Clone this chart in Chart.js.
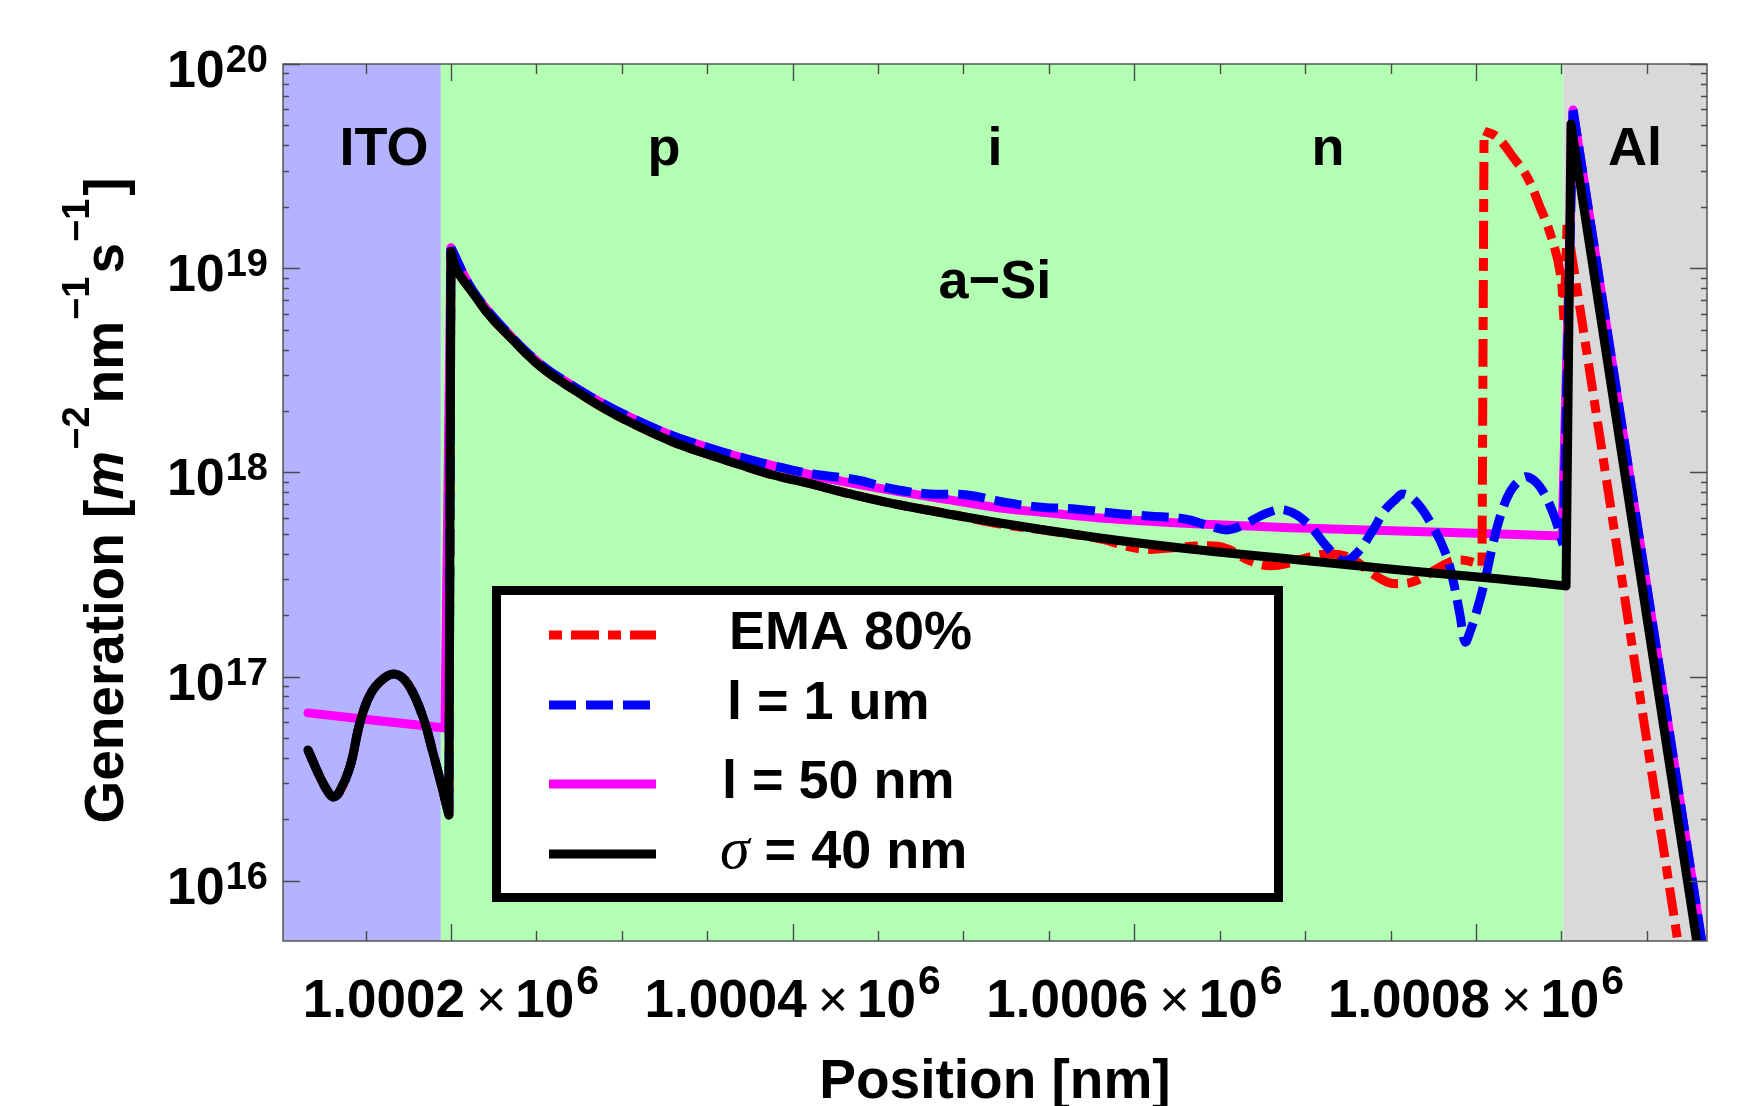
<!DOCTYPE html>
<html>
<head>
<meta charset="utf-8">
<script src="https://cdn.jsdelivr.net/npm/chart.js@4.4.1/dist/chart.umd.min.js"></script>
<style>
html,body{margin:0;padding:0;background:#ffffff;overflow:hidden;}
canvas{display:block;}
</style>
</head>
<body>
<canvas id="chart" width="1749" height="1106"></canvas>
<script>
// ---------------- data ----------------
const seriesLabels = ['EMA 80%', 'l = 1 um', 'l = 50 nm', 'σ = 40 nm'];
const seriesColors = ['#ff0000', '#0000ff', '#ff00ff', '#000000'];

// axis ranges (position in nm, generation in m^-2 nm^-1 s^-1)
const xMin = 1000101.7, xMax = 1000935.2;
const yMin = 5.08e15, yMax = 1e20;

// device layers
const layerEdges = [1000194.1, 1000851.2];
const layerColors = ['#b3b3ff', '#b3ffb3', '#d9d9d9'];
const layerLabels = ['ITO', 'p', 'i', 'n', 'Al', 'a\u2212Si'];
const layerLabelPos = [1000160.8, 1000324.7, 1000518.4, 1000713.4, 1000893.1, 1000518.4];
const layerLabelGen = [3.2e19, 3.2e19, 3.2e19, 3.2e19, 3.2e19, 7.15e18];

// ticks
const xTickPos = [1000200, 1000400, 1000600, 1000800];
const xTickMantissa = ['1.0002', '1.0004', '1.0006', '1.0008'];
const xTickExp = '6';
const yTickExp = [16, 17, 18, 19, 20];

// coherent interference inside ITO (shared by sigma, EMA, l = 1 um)
const itoPos = [1000116.3, 1000123.3, 1000127.4, 1000130.9, 1000134.4, 1000140.9, 1000146.7, 1000152.6, 1000159.6, 1000167.2, 1000174.8, 1000183.6, 1000189.5, 1000194.7, 1000198.8];
const itoGen = [4.38e16, 3.23e16, 2.79e16, 2.58e16, 2.70e16, 3.62e16, 5.94e16, 8.14e16, 9.64e16, 1.03e17, 9.21e16, 6.35e16, 4.23e16, 2.89e16, 2.10e16];

// sigma = 40 nm
const sigmaPos = [1000200.0, 1000203.5, 1000212.9, 1000222.8, 1000232.8, 1000252.1, 1000271.4, 1000291.3, 1000310.6, 1000330.0,
  1000349.9, 1000369.2, 1000388.5, 1000408.4, 1000433.6, 1000462.8, 1000521.4, 1000579.9, 1000638.4, 1000697.0,
  1000755.5, 1000814.1, 1000852.7, 1000855.6, 1000931.1];
const sigmaGen = [1.21e19, 9.80e18, 7.56e18, 5.84e18, 4.77e18, 3.32e18, 2.56e18, 2.02e18, 1.67e18, 1.41e18,
  1.23e18, 1.09e18, 9.72e17, 8.89e17, 7.85e17, 6.93e17, 5.66e17, 4.78e17, 4.17e17, 3.73e17,
  3.33e17, 3.01e17, 2.78e17, 5.08e19, 3.99e15];
const sigmaKinks = [1000198.8, 1000200.0, 1000852.7, 1000855.6];

// EMA 80%
const emaPos = [1000200.0, 1000203.5, 1000212.9, 1000222.8, 1000232.8, 1000252.1, 1000271.4, 1000291.3, 1000310.6, 1000330.0,
  1000349.9, 1000369.2, 1000388.5, 1000408.4, 1000433.6, 1000462.8, 1000492.1, 1000521.4, 1000550.6, 1000579.9,
  1000603.3, 1000620.9, 1000638.4, 1000653.1, 1000667.7, 1000679.4, 1000691.1, 1000702.8, 1000714.5, 1000726.3,
  1000738.0, 1000747.9, 1000755.5, 1000764.3, 1000776.0, 1000784.8, 1000791.8, 1000799.4, 1000803.5, 1000804.7,
  1000812.3, 1000821.7, 1000829.9, 1000837.5, 1000843.3, 1000849.2, 1000851.5, 1000853.3, 1000920.0];
const emaGen = [1.21e19, 9.80e18, 7.56e18, 5.84e18, 4.77e18, 3.32e18, 2.56e18, 2.02e18, 1.67e18, 1.41e18,
  1.23e18, 1.09e18, 9.72e17, 8.89e17, 7.85e17, 6.93e17, 6.26e17, 5.59e17, 5.17e17, 4.73e17,
  4.22e17, 4.27e17, 4.37e17, 4.27e17, 3.69e17, 3.49e17, 3.61e17, 3.86e17, 3.99e17, 3.82e17,
  3.26e17, 2.91e17, 2.85e17, 2.94e17, 3.33e17, 3.65e17, 3.73e17, 3.61e17, 3.49e17, 4.70e19,
  4.39e19, 3.50e19, 2.80e19, 1.99e19, 1.49e19, 9.58e18, 5.58e18, 1.63e19, 4.01e15];
const emaKinks = [1000198.8, 1000200.0, 1000803.5, 1000804.7, 1000851.5, 1000853.3];

// l = 1 um
const l1Pos = [1000200.0, 1000212.9, 1000232.8, 1000252.1, 1000271.4, 1000291.3, 1000310.6, 1000330.0, 1000349.9, 1000369.2,
  1000388.5, 1000411.9, 1000437.7, 1000458.7, 1000479.8, 1000502.1, 1000523.1, 1000543.6, 1000565.3, 1000586.9,
  1000608.0, 1000629.7, 1000644.3, 1000654.3, 1000663.6, 1000677.7, 1000688.2, 1000701.1, 1000712.8, 1000722.2,
  1000730.4, 1000739.7, 1000746.7, 1000752.6, 1000757.3, 1000765.5, 1000774.8, 1000781.9, 1000786.5, 1000790.6,
  1000793.6, 1000796.5, 1000800.6, 1000805.3, 1000809.4, 1000814.1, 1000819.9, 1000825.8, 1000830.5, 1000837.5,
  1000845.1, 1000851.0, 1000856.8, 1000934.1];
const l1Gen = [1.26e19, 7.74e18, 4.87e18, 3.40e18, 2.65e18, 2.12e18, 1.77e18, 1.51e18, 1.33e18, 1.19e18,
  1.08e18, 9.83e17, 9.19e17, 8.30e17, 7.85e17, 7.76e17, 7.17e17, 6.78e17, 6.63e17, 6.33e17,
  6.12e17, 5.92e17, 5.47e17, 5.23e17, 5.53e17, 6.33e17, 6.55e17, 5.66e17, 4.32e17, 3.69e17,
  4.04e17, 5.23e17, 6.55e17, 7.34e17, 7.85e17, 7.09e17, 5.41e17, 4.08e17, 2.98e17, 2.01e17,
  1.48e17, 1.66e17, 2.12e17, 2.98e17, 4.27e17, 6.06e17, 8.03e17, 9.19e17, 9.51e17, 8.49e17,
  6.33e17, 4.42e17, 5.95e19, 3.97e15];
const l1Kinks = [1000198.8, 1000200.0, 1000851.0, 1000856.8];

// l = 50 nm
const l50Pos = [1000116.3, 1000196.5, 1000200.0, 1000212.9, 1000232.8, 1000252.1, 1000271.4, 1000291.3, 1000310.6, 1000330.0,
  1000349.9, 1000369.2, 1000388.5, 1000408.4, 1000433.6, 1000462.8, 1000492.1, 1000521.4, 1000550.6, 1000579.9,
  1000638.4, 1000697.0, 1000755.5, 1000814.1, 1000850.4, 1000856.8, 1000934.1];
const l50Gen = [6.65e16, 5.61e16, 1.26e19, 7.74e18, 4.87e18, 3.40e18, 2.65e18, 2.12e18, 1.77e18, 1.51e18,
  1.33e18, 1.19e18, 1.08e18, 9.83e17, 8.89e17, 8.03e17, 7.34e17, 6.70e17, 6.33e17, 5.99e17,
  5.59e17, 5.35e17, 5.17e17, 5.00e17, 4.89e17, 5.95e19, 3.97e15];
const l50Kinks = [1000196.5, 1000200.0, 1000850.4, 1000856.8];

// ---------------- building ----------------
const SANS = '"Liberation Sans", Arial, sans-serif';
const SERIF = '"Liberation Serif", "Times New Roman", serif';

function buildPoints(xs, ys, kinks) {
  const pts = [];
  xs.forEach((x, i) => {
    pts.push({x: x, y: ys[i]});
    if (kinks.includes(x) && i > 0 && i < xs.length - 1) {
      pts.push({x: x, y: null});
      pts.push({x: x, y: ys[i]});
    }
  });
  return pts;
}

const datasets = [
  {label: seriesLabels[3], data: buildPoints(itoPos.concat(sigmaPos), itoGen.concat(sigmaGen), sigmaKinks),
   borderColor: seriesColors[3], borderDash: [], borderCapStyle: 'round', order: 0},
  {label: seriesLabels[1], data: buildPoints(itoPos.concat(l1Pos), itoGen.concat(l1Gen), l1Kinks),
   borderColor: seriesColors[1], borderDash: [27, 10], borderCapStyle: 'butt', order: 1},
  {label: seriesLabels[0], data: buildPoints(itoPos.concat(emaPos), itoGen.concat(emaGen), emaKinks),
   borderColor: seriesColors[0], borderDash: [13, 9, 28, 9], borderCapStyle: 'butt', order: 2},
  {label: seriesLabels[2], data: buildPoints(l50Pos, l50Gen, l50Kinks),
   borderColor: seriesColors[2], borderDash: [], borderCapStyle: 'round', order: 3}
].map(d => Object.assign({
  borderWidth: 9, pointRadius: 0, fill: false, tension: 0.4,
  spanGaps: false, clip: 0, borderJoinStyle: 'round'
}, d));

function drawParts(ctx, parts, x, y, align) {
  let total = 0;
  parts.forEach((p, i) => {
    ctx.font = p.f;
    p.w = ctx.measureText(p.t).width;
    total += p.w + (i < parts.length - 1 ? (p.gap || 0) : 0);
  });
  let cx = align === 'center' ? x - total / 2 : (align === 'right' ? x - total : x);
  ctx.textAlign = 'left';
  ctx.textBaseline = 'alphabetic';
  parts.forEach(p => {
    ctx.font = p.f;
    ctx.fillText(p.t, cx, y + (p.dy || 0));
    cx += p.w + (p.gap || 0);
  });
}

const deco = {
  id: 'deco',
  beforeDraw(chart) {
    const ctx = chart.ctx;
    ctx.save();
    ctx.fillStyle = '#ffffff';
    ctx.fillRect(0, 0, chart.width, chart.height);
    ctx.restore();
  },
  beforeDatasetsDraw(chart) {
    const {ctx, chartArea: a, scales: {x}} = chart;
    const edges = [xMin].concat(layerEdges, [xMax]);
    ctx.save();
    for (let i = 0; i < layerColors.length; i++) {
      const p0 = x.getPixelForValue(edges[i]);
      const p1 = x.getPixelForValue(edges[i + 1]);
      ctx.fillStyle = layerColors[i];
      ctx.fillRect(p0, a.top, p1 - p0, a.bottom - a.top);
    }
    ctx.restore();
  },
  afterDatasetsDraw(chart) {
    const {ctx, chartArea: a, scales: {x, y}} = chart;
    ctx.save();
    ctx.fillStyle = '#000';
    // layer labels
    ctx.font = `bold 54px ${SANS}`;
    ctx.textAlign = 'center';
    ctx.textBaseline = 'alphabetic';
    layerLabels.forEach((t, i) => {
      ctx.fillText(t, x.getPixelForValue(layerLabelPos[i]), y.getPixelForValue(layerLabelGen[i]));
    });

    // legend
    ctx.fillStyle = '#ffffff';
    ctx.fillRect(492, 586, 791, 316);
    ctx.lineWidth = 9;
    ctx.strokeStyle = '#000';
    ctx.setLineDash([]);
    ctx.strokeRect(496.5, 590.5, 782, 307);
    const legendOrder = [2, 1, 3, 0]; // dataset indices for EMA, l=1um, l=50nm, sigma
    const rowY = [635, 705, 784, 854];
    const textX = [729, 727, 722, 720];
    legendOrder.forEach((di, r) => {
      const ds = chart.data.datasets[di];
      ctx.save();
      ctx.strokeStyle = ds.borderColor;
      ctx.lineWidth = 9;
      ctx.lineCap = 'butt';
      ctx.setLineDash(ds.borderDash || []);
      ctx.beginPath();
      ctx.moveTo(549, rowY[r]);
      ctx.lineTo(656, rowY[r]);
      ctx.stroke();
      ctx.restore();
      ctx.fillStyle = '#000';
      const label = ds.label;
      if (label.charAt(0) === 'σ') {
        drawParts(ctx, [
          {t: 'σ', f: `italic 60px ${SERIF}`, gap: 0},
          {t: label.slice(1), f: `bold 54px ${SANS}`}
        ], textX[r], rowY[r] + 14, 'left');
      } else {
        drawParts(ctx, [{t: label, f: `bold 54px ${SANS}`}], textX[r], rowY[r] + 14, 'left');
      }
    });

    // frame and ticks
    ctx.strokeStyle = '#4a4a4a';
    ctx.lineWidth = 1.4;
    ctx.setLineDash([]);
    ctx.beginPath();
    for (let v = 1000150; v <= xMax; v += 50) {
      const px = Math.round(x.getPixelForValue(v)) + 0.5;
      if (px < a.left || px > a.right) continue;
      const len = xTickPos.includes(v) ? 17 : 10;
      ctx.moveTo(px, a.bottom); ctx.lineTo(px, a.bottom - len);
      ctx.moveTo(px, a.top); ctx.lineTo(px, a.top + len);
    }
    yTickExp.forEach(e => {
      const kmax = e === yTickExp[yTickExp.length - 1] ? 1 : 9;
      for (let k = 1; k <= kmax; k++) {
        const py = Math.round(y.getPixelForValue(k * Math.pow(10, e))) + 0.5;
        if (py < a.top - 1 || py > a.bottom) continue;
        const len = k === 1 ? 17 : 6;
        ctx.moveTo(a.left, py); ctx.lineTo(a.left + len, py);
        ctx.moveTo(a.right, py); ctx.lineTo(a.right - len, py);
      }
    });
    ctx.stroke();
    ctx.strokeRect(a.left, a.top, a.right - a.left, a.bottom - a.top);

    // tick labels
    ctx.fillStyle = '#000';
    xTickPos.forEach((v, i) => {
      const cx = x.getPixelForValue(v);
      drawParts(ctx, [
        {t: xTickMantissa[i], f: `bold 53px ${SANS}`, gap: 11},
        {t: '×', f: `52px ${SANS}`, gap: 9},
        {t: '10', f: `bold 53px ${SANS}`, gap: 2},
        {t: xTickExp, f: `bold 41px ${SANS}`, dy: -23}
      ], cx, 1017, 'center');
    });
    yTickExp.forEach(e => {
      const py = y.getPixelForValue(Math.pow(10, e));
      drawParts(ctx, [
        {t: '10', f: `bold 52px ${SANS}`, gap: 1},
        {t: String(e), f: `bold 38px ${SANS}`, dy: -15}
      ], 268, py + 23, 'right');
    });

    // axis titles
    drawParts(ctx, [{t: 'Position [nm]', f: `bold 55px ${SANS}`}], (a.left + a.right) / 2, 1098, 'center');
    ctx.save();
    ctx.translate(123, (a.top + a.bottom) / 2 - 2);
    ctx.rotate(-Math.PI / 2);
    drawParts(ctx, [
      {t: 'Generation [', f: `bold 55px ${SANS}`},
      {t: 'm', f: `italic bold 55px ${SANS}`, gap: 1},
      {t: '\u22122', f: `bold 38px ${SANS}`, dy: -34, gap: 3},
      {t: 'nm', f: `bold 55px ${SANS}`, gap: 1},
      {t: '\u22121', f: `bold 38px ${SANS}`, dy: -34, gap: 3},
      {t: 's', f: `bold 55px ${SANS}`, gap: 1},
      {t: '\u22121', f: `bold 38px ${SANS}`, dy: -34, gap: 3},
      {t: ']', f: `bold 55px ${SANS}`}
    ], 0, 0, 'center');
    ctx.restore();
    ctx.restore();
  }
};

new Chart(document.getElementById('chart'), {
  type: 'line',
  data: {datasets: datasets},
  options: {
    responsive: false,
    devicePixelRatio: 1,
    animation: false,
    events: [],
    layout: {padding: {left: 283, right: 42, top: 64, bottom: 165}},
    scales: {
      x: {type: 'linear', min: xMin, max: xMax, display: false},
      y: {type: 'logarithmic', min: yMin, max: yMax, display: false}
    },
    plugins: {legend: {display: false}, tooltip: {enabled: false}, title: {display: false}}
  },
  plugins: [deco]
});
</script>
</body>
</html>
